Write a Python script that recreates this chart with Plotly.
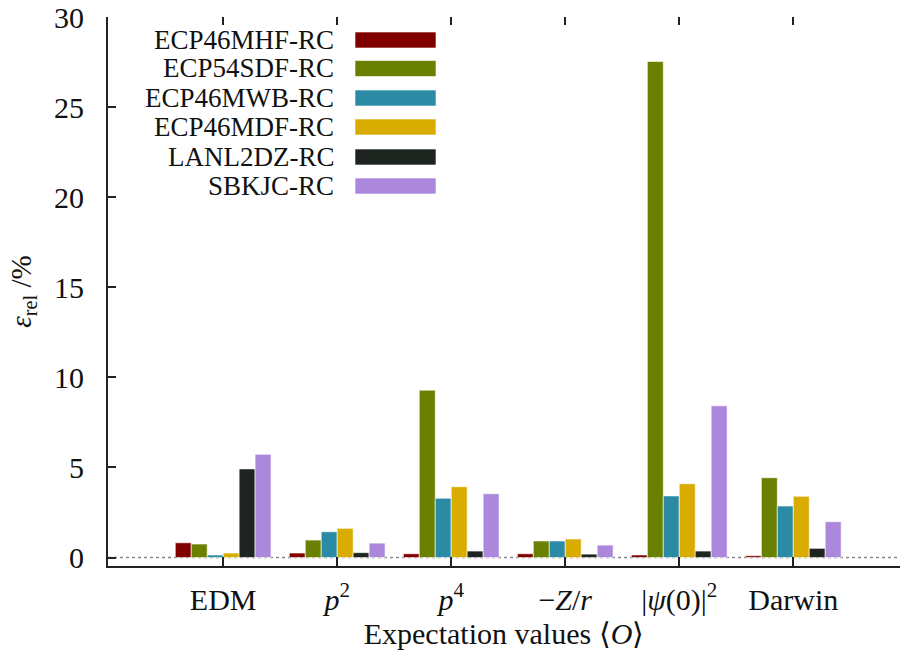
import plotly.graph_objects as go

categories = ["EDM", "p2", "p4", "-Z/r", "psi0", "Darwin"]
tick_labels = ["EDM", "<i>p</i><sup>2</sup>", "<i>p</i><sup>4</sup>",
               "−<i>Z</i>/<i>r</i>", "|<i>ψ</i>(0)|<sup>2</sup>", "Darwin"]

series_names = ["ECP46MHF-RC", "ECP54SDF-RC", "ECP46MWB-RC",
                "ECP46MDF-RC", "LANL2DZ-RC", "SBKJC-RC"]

ecp46mhf = [0.82, 0.25, 0.21, 0.21, 0.14, 0.10]
ecp54sdf = [0.75, 0.97, 9.29, 0.92, 27.53, 4.43]
ecp46mwb = [0.14, 1.43, 3.29, 0.92, 3.42, 2.86]
ecp46mdf = [0.25, 1.62, 3.93, 1.03, 4.10, 3.40]
lanl2dz = [4.92, 0.27, 0.36, 0.19, 0.36, 0.51]
sbkjc = [5.73, 0.80, 3.54, 0.69, 8.42, 1.99]

series_values = [ecp46mhf, ecp54sdf, ecp46mwb, ecp46mdf, lanl2dz, sbkjc]
colors = ["#800000", "#6a8000", "#2b8aa4", "#d8ac00", "#1e2420", "#ac88dc"]

FONT = "Liberation Serif"
x_idx = list(range(len(categories)))

fig = go.Figure()
for name, vals, col in zip(series_names, series_values, colors):
    fig.add_trace(go.Bar(
        x=x_idx, y=vals, name=name,
        marker=dict(color=col, line=dict(color="rgba(255,255,255,0.6)", width=1)),
        showlegend=False,
    ))

# invisible trace for top mirrored x ticks
fig.add_trace(go.Scatter(x=[x_idx[0]], y=[0], xaxis="x2", mode="markers",
                         marker=dict(opacity=0), showlegend=False, hoverinfo="skip"))

W, H = 900, 661
ml, mr, mt, mb = 108, 0, 17, 95
pw, ph = W - ml - mr, H - mt - mb

fig.update_layout(
    width=W, height=H,
    margin=dict(l=ml, r=mr, t=mt, b=mb),
    paper_bgcolor="white", plot_bgcolor="white",
    barmode="group", bargap=0.16, bargroupgap=0.0,
    font=dict(family=FONT, size=28, color="#111111"),
    xaxis=dict(
        range=[-1.01, 5.936], tickmode="array", tickvals=x_idx, ticktext=tick_labels,
        ticks="inside", ticklen=9, tickwidth=1.5, tickcolor="#222222",
        showline=True, linecolor="#222222", linewidth=2, mirror=False,
        showgrid=False, zeroline=False, ticklabelstandoff=6,
        tickfont=dict(family=FONT, size=30),
        title=dict(text="Expectation values ⟨<i>O</i>⟩", font=dict(family=FONT, size=30), standoff=6),
    ),
    xaxis2=dict(
        range=[-1.01, 5.936], overlaying="x", side="top", tickmode="array",
        tickvals=x_idx, ticktext=["" for _ in x_idx], ticks="inside", ticklen=8,
        tickwidth=1.5, tickcolor="#222222",
        showticklabels=False, showline=False, showgrid=False, zeroline=False,
    ),
    yaxis=dict(
        range=[-0.47, 30], tickmode="array", tickvals=[0, 5, 10, 15, 20, 25, 30],
        ticks="inside", ticklen=8, tickwidth=1.5, tickcolor="#222222",
        showline=True, linecolor="#222222", linewidth=2,
        showgrid=False, zeroline=False, ticklabelstandoff=16,
        tickfont=dict(family=FONT, size=30),
        title=dict(text="<i>ε</i><sub>rel</sub> /%", font=dict(family=FONT, size=29), standoff=14),
    ),
)

# dotted zero line
fig.add_shape(type="line", xref="paper", yref="y", x0=0, x1=1, y0=0, y1=0,
              line=dict(color="#888888", width=1.5, dash="dot"), layer="below")

# manual gnuplot-style legend
row_y_px = [40, 68.5, 98, 127, 157, 186]
for name, col, ypx in zip(series_names, colors, row_y_px):
    yp = (H - mb - ypx) / ph
    fig.add_annotation(x=(336 - ml) / pw, y=yp, xref="paper", yref="paper",
                       text=name, showarrow=False, xanchor="right", yanchor="middle",
                       font=dict(family=FONT, size=27, color="#111111"))
    fig.add_shape(type="rect", xref="paper", yref="paper",
                  x0=(355 - ml) / pw, x1=(436 - ml) / pw,
                  y0=(H - mb - (ypx + 8)) / ph, y1=(H - mb - (ypx - 8)) / ph,
                  fillcolor=col, line=dict(color="rgba(255,255,255,0.6)", width=1))

fig.write_html("out.html")
